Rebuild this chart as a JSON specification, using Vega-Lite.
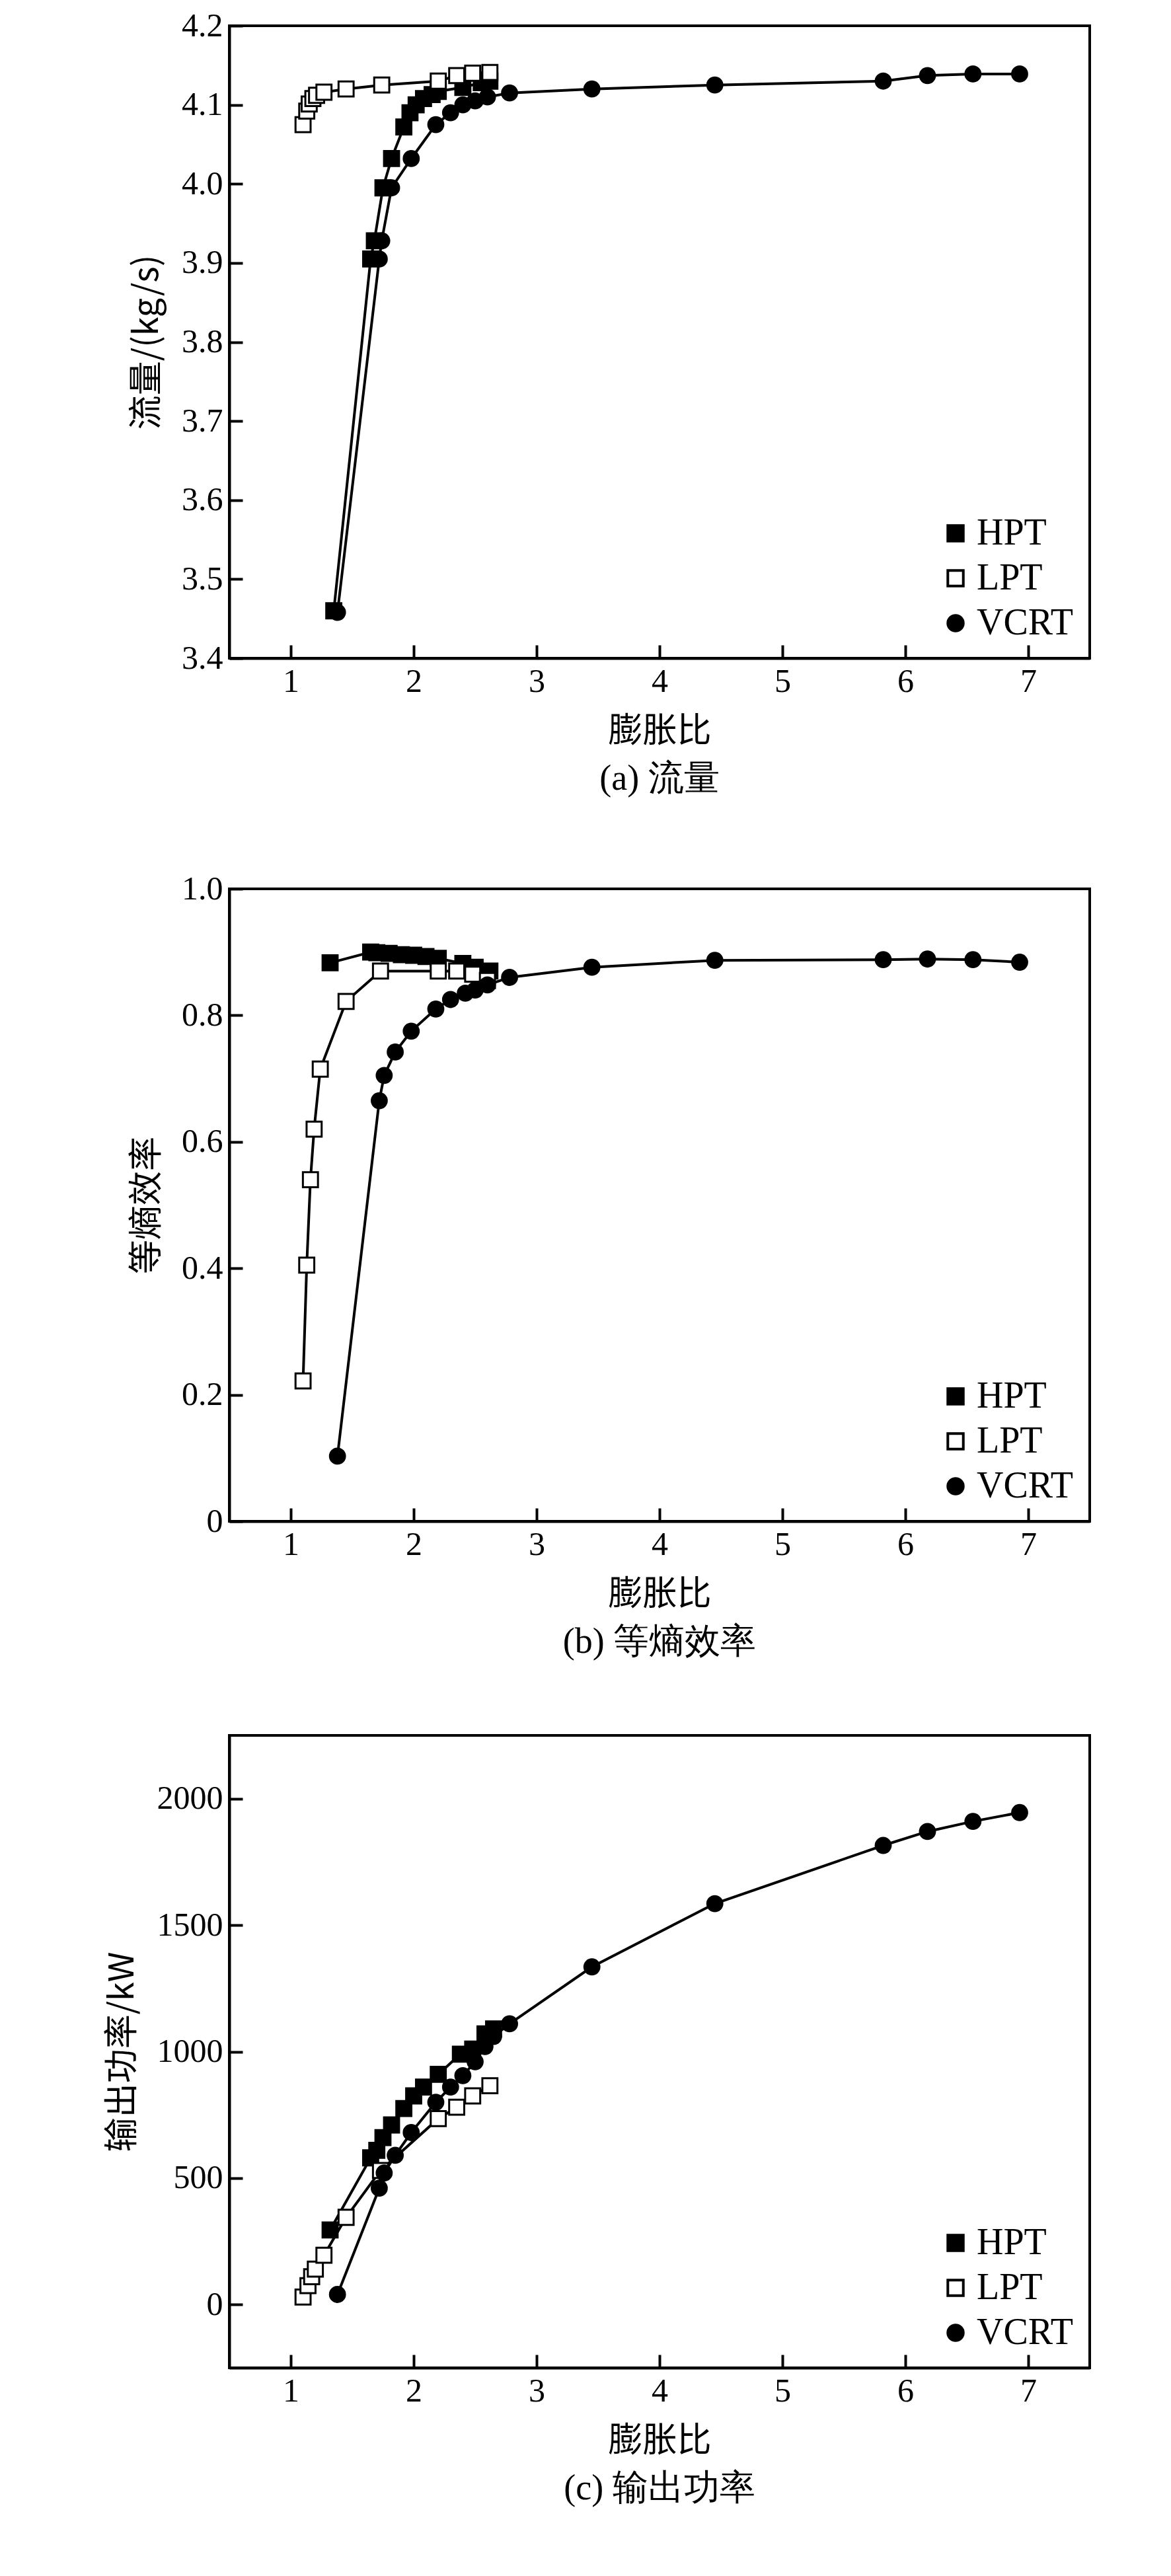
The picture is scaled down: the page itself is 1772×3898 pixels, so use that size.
{
  "$schema": "https://vega.github.io/schema/vega-lite/v6.json",
  "background": "white",
  "padding": {"left": 157, "top": 12, "right": 20, "bottom": 10},
  "datasets": {
    "pts": [
      {"panel": "a", "series": "HPT", "x": 1.35, "y": 3.46},
      {"panel": "a", "series": "HPT", "x": 1.65, "y": 3.905},
      {"panel": "a", "series": "HPT", "x": 1.68, "y": 3.928},
      {"panel": "a", "series": "HPT", "x": 1.75, "y": 3.995},
      {"panel": "a", "series": "HPT", "x": 1.82, "y": 4.032},
      {"panel": "a", "series": "HPT", "x": 1.92, "y": 4.072},
      {"panel": "a", "series": "HPT", "x": 1.97, "y": 4.09},
      {"panel": "a", "series": "HPT", "x": 2.02, "y": 4.1},
      {"panel": "a", "series": "HPT", "x": 2.08, "y": 4.108},
      {"panel": "a", "series": "HPT", "x": 2.15, "y": 4.113},
      {"panel": "a", "series": "HPT", "x": 2.2, "y": 4.117},
      {"panel": "a", "series": "HPT", "x": 2.4, "y": 4.122},
      {"panel": "a", "series": "HPT", "x": 2.55, "y": 4.128},
      {"panel": "a", "series": "HPT", "x": 2.62, "y": 4.13},
      {"panel": "a", "series": "LPT", "x": 1.1, "y": 4.075},
      {"panel": "a", "series": "LPT", "x": 1.13, "y": 4.092},
      {"panel": "a", "series": "LPT", "x": 1.15, "y": 4.101},
      {"panel": "a", "series": "LPT", "x": 1.18, "y": 4.108},
      {"panel": "a", "series": "LPT", "x": 1.21, "y": 4.112},
      {"panel": "a", "series": "LPT", "x": 1.27, "y": 4.116},
      {"panel": "a", "series": "LPT", "x": 1.45, "y": 4.12},
      {"panel": "a", "series": "LPT", "x": 1.74, "y": 4.125},
      {"panel": "a", "series": "LPT", "x": 2.2, "y": 4.13},
      {"panel": "a", "series": "LPT", "x": 2.35, "y": 4.137},
      {"panel": "a", "series": "LPT", "x": 2.48, "y": 4.14},
      {"panel": "a", "series": "LPT", "x": 2.62, "y": 4.141},
      {"panel": "a", "series": "VCRT", "x": 1.38, "y": 3.458},
      {"panel": "a", "series": "VCRT", "x": 1.72, "y": 3.905},
      {"panel": "a", "series": "VCRT", "x": 1.74, "y": 3.928},
      {"panel": "a", "series": "VCRT", "x": 1.82, "y": 3.995},
      {"panel": "a", "series": "VCRT", "x": 1.98, "y": 4.032},
      {"panel": "a", "series": "VCRT", "x": 2.18, "y": 4.075},
      {"panel": "a", "series": "VCRT", "x": 2.3, "y": 4.09},
      {"panel": "a", "series": "VCRT", "x": 2.4, "y": 4.1},
      {"panel": "a", "series": "VCRT", "x": 2.5, "y": 4.105},
      {"panel": "a", "series": "VCRT", "x": 2.6, "y": 4.11},
      {"panel": "a", "series": "VCRT", "x": 2.78, "y": 4.115},
      {"panel": "a", "series": "VCRT", "x": 3.45, "y": 4.12},
      {"panel": "a", "series": "VCRT", "x": 4.45, "y": 4.125},
      {"panel": "a", "series": "VCRT", "x": 5.82, "y": 4.13},
      {"panel": "a", "series": "VCRT", "x": 6.18, "y": 4.137},
      {"panel": "a", "series": "VCRT", "x": 6.55, "y": 4.139},
      {"panel": "a", "series": "VCRT", "x": 6.93, "y": 4.139},

      {"panel": "b", "series": "HPT", "x": 1.32, "y": 0.883},
      {"panel": "b", "series": "HPT", "x": 1.65, "y": 0.9},
      {"panel": "b", "series": "HPT", "x": 1.7, "y": 0.899},
      {"panel": "b", "series": "HPT", "x": 1.8, "y": 0.898},
      {"panel": "b", "series": "HPT", "x": 1.9, "y": 0.896},
      {"panel": "b", "series": "HPT", "x": 2.0, "y": 0.895},
      {"panel": "b", "series": "HPT", "x": 2.1, "y": 0.893},
      {"panel": "b", "series": "HPT", "x": 2.2, "y": 0.89},
      {"panel": "b", "series": "HPT", "x": 2.4, "y": 0.882},
      {"panel": "b", "series": "HPT", "x": 2.5, "y": 0.876},
      {"panel": "b", "series": "HPT", "x": 2.62, "y": 0.87},
      {"panel": "b", "series": "LPT", "x": 1.1, "y": 0.222},
      {"panel": "b", "series": "LPT", "x": 1.13, "y": 0.405},
      {"panel": "b", "series": "LPT", "x": 1.16, "y": 0.54},
      {"panel": "b", "series": "LPT", "x": 1.19, "y": 0.62},
      {"panel": "b", "series": "LPT", "x": 1.24, "y": 0.715},
      {"panel": "b", "series": "LPT", "x": 1.45, "y": 0.822},
      {"panel": "b", "series": "LPT", "x": 1.73, "y": 0.87},
      {"panel": "b", "series": "LPT", "x": 2.2, "y": 0.87},
      {"panel": "b", "series": "LPT", "x": 2.35, "y": 0.87},
      {"panel": "b", "series": "LPT", "x": 2.48, "y": 0.865},
      {"panel": "b", "series": "LPT", "x": 2.6, "y": 0.855},
      {"panel": "b", "series": "VCRT", "x": 1.38, "y": 0.103},
      {"panel": "b", "series": "VCRT", "x": 1.72, "y": 0.665},
      {"panel": "b", "series": "VCRT", "x": 1.76, "y": 0.705},
      {"panel": "b", "series": "VCRT", "x": 1.85, "y": 0.742},
      {"panel": "b", "series": "VCRT", "x": 1.98, "y": 0.775},
      {"panel": "b", "series": "VCRT", "x": 2.18, "y": 0.81},
      {"panel": "b", "series": "VCRT", "x": 2.3, "y": 0.825},
      {"panel": "b", "series": "VCRT", "x": 2.42, "y": 0.835},
      {"panel": "b", "series": "VCRT", "x": 2.5, "y": 0.84},
      {"panel": "b", "series": "VCRT", "x": 2.6, "y": 0.848},
      {"panel": "b", "series": "VCRT", "x": 2.78, "y": 0.86},
      {"panel": "b", "series": "VCRT", "x": 3.45, "y": 0.876},
      {"panel": "b", "series": "VCRT", "x": 4.45, "y": 0.887},
      {"panel": "b", "series": "VCRT", "x": 5.82, "y": 0.888},
      {"panel": "b", "series": "VCRT", "x": 6.18, "y": 0.889},
      {"panel": "b", "series": "VCRT", "x": 6.55, "y": 0.888},
      {"panel": "b", "series": "VCRT", "x": 6.93, "y": 0.884},

      {"panel": "c", "series": "HPT", "x": 1.32, "y": 295},
      {"panel": "c", "series": "HPT", "x": 1.65, "y": 580},
      {"panel": "c", "series": "HPT", "x": 1.7, "y": 610},
      {"panel": "c", "series": "HPT", "x": 1.75, "y": 660},
      {"panel": "c", "series": "HPT", "x": 1.82, "y": 710},
      {"panel": "c", "series": "HPT", "x": 1.92, "y": 775},
      {"panel": "c", "series": "HPT", "x": 2.0, "y": 825},
      {"panel": "c", "series": "HPT", "x": 2.08, "y": 860},
      {"panel": "c", "series": "HPT", "x": 2.2, "y": 910},
      {"panel": "c", "series": "HPT", "x": 2.38, "y": 990},
      {"panel": "c", "series": "HPT", "x": 2.48, "y": 1010},
      {"panel": "c", "series": "HPT", "x": 2.58, "y": 1070},
      {"panel": "c", "series": "HPT", "x": 2.65, "y": 1090},
      {"panel": "c", "series": "LPT", "x": 1.1, "y": 30},
      {"panel": "c", "series": "LPT", "x": 1.14, "y": 75},
      {"panel": "c", "series": "LPT", "x": 1.17, "y": 110},
      {"panel": "c", "series": "LPT", "x": 1.2, "y": 140},
      {"panel": "c", "series": "LPT", "x": 1.27, "y": 195},
      {"panel": "c", "series": "LPT", "x": 1.45, "y": 345},
      {"panel": "c", "series": "LPT", "x": 1.73, "y": 530},
      {"panel": "c", "series": "LPT", "x": 2.2, "y": 735},
      {"panel": "c", "series": "LPT", "x": 2.35, "y": 780},
      {"panel": "c", "series": "LPT", "x": 2.48, "y": 825},
      {"panel": "c", "series": "LPT", "x": 2.62, "y": 865},
      {"panel": "c", "series": "VCRT", "x": 1.38, "y": 40},
      {"panel": "c", "series": "VCRT", "x": 1.72, "y": 460},
      {"panel": "c", "series": "VCRT", "x": 1.76, "y": 520},
      {"panel": "c", "series": "VCRT", "x": 1.85, "y": 590},
      {"panel": "c", "series": "VCRT", "x": 1.98, "y": 680},
      {"panel": "c", "series": "VCRT", "x": 2.18, "y": 800},
      {"panel": "c", "series": "VCRT", "x": 2.3, "y": 860},
      {"panel": "c", "series": "VCRT", "x": 2.4, "y": 905},
      {"panel": "c", "series": "VCRT", "x": 2.5, "y": 960},
      {"panel": "c", "series": "VCRT", "x": 2.58, "y": 1020},
      {"panel": "c", "series": "VCRT", "x": 2.65, "y": 1060},
      {"panel": "c", "series": "VCRT", "x": 2.78, "y": 1110},
      {"panel": "c", "series": "VCRT", "x": 3.45, "y": 1335},
      {"panel": "c", "series": "VCRT", "x": 4.45, "y": 1585},
      {"panel": "c", "series": "VCRT", "x": 5.82, "y": 1815},
      {"panel": "c", "series": "VCRT", "x": 6.18, "y": 1870},
      {"panel": "c", "series": "VCRT", "x": 6.55, "y": 1910},
      {"panel": "c", "series": "VCRT", "x": 6.93, "y": 1945}
    ]
  },
  "config": {
    "font": "Liberation Serif",
    "view": {"stroke": "black", "strokeWidth": 4},
    "axis": {
      "domainColor": "black", "domainWidth": 4, "tickColor": "black", "tickWidth": 4,
      "tickSize": -20, "labelPadding": 30, "grid": false,
      "labelFont": "Liberation Serif", "labelFontSize": 50, "labelColor": "black",
      "titleFont": "Noto Sans CJK SC", "titleFontSize": 52, "titleFontWeight": "normal", "titleColor": "black", "titlePadding": 25
    },
    "legend": {
      "orient": "bottom-right", "title": null, "labelFont": "Liberation Serif", "labelFontSize": 56,
      "labelColor": "black", "symbolSize": 550, "symbolStrokeWidth": 4, "rowPadding": 12, "offset": 25
    },
    "title": {"orient": "bottom", "font": "Liberation Serif", "fontSize": 54, "fontWeight": "normal", "color": "black", "offset": 20}
  },
  "spacing": 110,
  "vconcat": [
    {
      "width": 1302, "height": 957,
      "title": "(a) 流量",
      "transform": [{"filter": "datum.panel == 'a'"}],
      "data": {"name": "pts"},
      "encoding": {
        "x": {"field": "x", "type": "quantitative", "title": "膨胀比", "scale": {"domain": [0.5, 7.5]}, "axis": {"values": [1, 2, 3, 4, 5, 6, 7]}},
        "y": {"field": "y", "type": "quantitative", "title": "流量/(kg/s)", "scale": {"domain": [3.4, 4.2]}, "axis": {"values": [3.4, 3.5, 3.6, 3.7, 3.8, 3.9, 4.0, 4.1, 4.2], "format": ".1f"}}
      },
      "layer": [
        {"mark": {"type": "line", "color": "black", "strokeWidth": 4}, "encoding": {"detail": {"field": "series"}}},
        {"mark": {"type": "point", "size": 520, "strokeWidth": 3, "stroke": "black", "opacity": 1},
         "encoding": {
           "shape": {"field": "series", "type": "nominal", "scale": {"domain": ["HPT", "LPT", "VCRT"], "range": ["square", "square", "circle"]}},
           "fill": {"field": "series", "type": "nominal", "scale": {"domain": ["HPT", "LPT", "VCRT"], "range": ["black", "white", "black"]}}
         }}
      ]
    },
    {
      "width": 1302, "height": 957,
      "title": "(b) 等熵效率",
      "transform": [{"filter": "datum.panel == 'b'"}],
      "data": {"name": "pts"},
      "encoding": {
        "x": {"field": "x", "type": "quantitative", "title": "膨胀比", "scale": {"domain": [0.5, 7.5]}, "axis": {"values": [1, 2, 3, 4, 5, 6, 7]}},
        "y": {"field": "y", "type": "quantitative", "title": "等熵效率", "scale": {"domain": [0, 1]}, "axis": {"values": [0, 0.2, 0.4, 0.6, 0.8, 1.0], "labelExpr": "datum.value == 0 ? '0' : format(datum.value, '.1f')"}}
      },
      "layer": [
        {"mark": {"type": "line", "color": "black", "strokeWidth": 4}, "encoding": {"detail": {"field": "series"}}},
        {"mark": {"type": "point", "size": 520, "strokeWidth": 3, "stroke": "black", "opacity": 1},
         "encoding": {
           "shape": {"field": "series", "type": "nominal", "scale": {"domain": ["HPT", "LPT", "VCRT"], "range": ["square", "square", "circle"]}},
           "fill": {"field": "series", "type": "nominal", "scale": {"domain": ["HPT", "LPT", "VCRT"], "range": ["black", "white", "black"]}}
         }}
      ]
    },
    {
      "width": 1302, "height": 957,
      "title": "(c) 输出功率",
      "transform": [{"filter": "datum.panel == 'c'"}],
      "data": {"name": "pts"},
      "encoding": {
        "x": {"field": "x", "type": "quantitative", "title": "膨胀比", "scale": {"domain": [0.5, 7.5]}, "axis": {"values": [1, 2, 3, 4, 5, 6, 7]}},
        "y": {"field": "y", "type": "quantitative", "title": "输出功率/kW", "scale": {"domain": [-250, 2250]}, "axis": {"values": [0, 500, 1000, 1500, 2000], "format": "d"}}
      },
      "layer": [
        {"mark": {"type": "line", "color": "black", "strokeWidth": 4}, "encoding": {"detail": {"field": "series"}}},
        {"mark": {"type": "point", "size": 520, "strokeWidth": 3, "stroke": "black", "opacity": 1},
         "encoding": {
           "shape": {"field": "series", "type": "nominal", "scale": {"domain": ["HPT", "LPT", "VCRT"], "range": ["square", "square", "circle"]}},
           "fill": {"field": "series", "type": "nominal", "scale": {"domain": ["HPT", "LPT", "VCRT"], "range": ["black", "white", "black"]}}
         }}
      ]
    }
  ],
  "resolve": {"scale": {"y": "independent", "shape": "independent", "fill": "independent"}, "legend": {"shape": "independent", "fill": "independent"}}
}
